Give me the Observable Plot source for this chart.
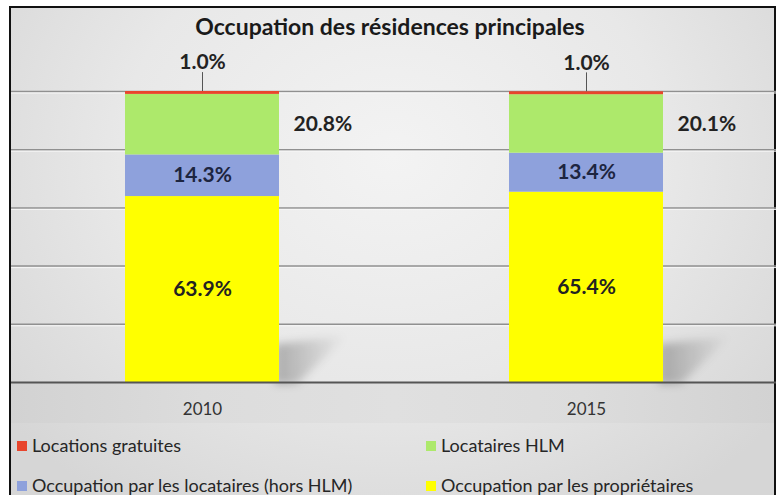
<!DOCTYPE html>
<html><head><meta charset="utf-8">
<script src="https://cdn.jsdelivr.net/npm/d3@7"></script>
<script src="https://cdn.jsdelivr.net/npm/@observablehq/plot@0.6"></script>
<style>
body{margin:0;background:#fff;}
#page{position:relative;width:780px;height:495px;overflow:hidden;font-family:Lato, "Open Sans", sans-serif;}
#frame{position:absolute;left:9px;top:6px;width:767px;height:495px;box-sizing:border-box;border:2px solid #111;border-bottom:none;
 background: radial-gradient(ellipse 65% 85% at 50% 30%, #f3f3f3 0%, #e8e8e8 55%, #d6d6d6 100%);}
#axisband{position:absolute;left:11px;top:382px;width:763px;height:41px;background:linear-gradient(to right,#d2d2d2,#dcdcdc 25%,#e0e0e0 50%,#dcdcdc 75%,#d2d2d2);}
#title{position:absolute;left:0;top:12px;width:780px;text-align:center;font-size:23px;font-weight:bold;color:#1a1a1a;}
#chart{position:absolute;left:0;top:44px;}
.leg{position:absolute;font-size:18px;color:#262626;white-space:nowrap;line-height:20px;}
.sw{position:absolute;width:10px;height:10px;}
</style></head>
<body>
<div id="page">
  <div id="frame"></div>
  <div id="axisband"></div>
  <div id="title">Occupation des résidences principales</div>
  <div id="chart"></div>
  <div id="legend"></div>
</div>
<script>
const years = ["2010", "2015"];
// stacking order: bottom to top
const categories = ["Occupation par les propriétaires", "Occupation par les locataires (hors HLM)", "Locataires HLM", "Locations gratuites"];
const colors = ["#ffff00", "#8ea1dc", "#ade96b", "#e8452c"];
const proprietaires = [63.9, 65.4];
const locatairesHorsHLM = [14.3, 13.4];
const locatairesHLM = [20.8, 20.1];
const locationsGratuites = [1.0, 1.0];
const yTicks = [0, 20, 40, 60, 80, 100];
// legend order (row by row)
const legendOrder = ["Locations gratuites", "Locataires HLM", "Occupation par les locataires (hors HLM)", "Occupation par les propriétaires"];

const series = [proprietaires, locatairesHorsHLM, locatairesHLM, locationsGratuites];
const rows = [];
years.forEach((yr, i) => {
  let acc = 0;
  categories.forEach((c, k) => {
    const v = series[k][i];
    rows.push({year: yr, category: c, k, value: v, y1: acc, y2: acc + v, mid: acc + v / 2});
    acc += v;
  });
});
const fmt = v => v.toFixed(1) + "%";
const insideRows = rows.filter(d => d.k === 0 || d.k === 1);
const sideRows = rows.filter(d => d.k === 2);
const topRows = rows.filter(d => d.k === 3);

const plot = Plot.plot({
  width: 780, height: 379,
  marginTop: 47, marginBottom: 41, marginLeft: 11, marginRight: 4,
  style: {background: "transparent", fontFamily: "Lato, 'Open Sans', sans-serif", fontSize: "17px", color: "#333", overflow: "visible"},
  x: {domain: years, paddingInner: 0.6, paddingOuter: 0.295, label: null, tickSize: 0, tickPadding: 20},
  y: {domain: [0, 100], axis: null},
  color: {domain: categories, range: colors},
  marks: [
    Plot.ruleY(yTicks.filter(d => d > 0), {stroke: "#909090", strokeWidth: 1.5}),
    Plot.ruleY(yTicks.filter(d => d > 0), {stroke: "#f7f7f7", strokeWidth: 1, dy: 1.5}),
    Plot.barY(rows, {x: "year", y1: "y1", y2: "y2", fill: "category"}),
    Plot.ruleY([0], {stroke: "#555", strokeWidth: 2}),
    Plot.ruleX(topRows, {x: "year", y1: "y2", y2: d => d.y2 + 6.5, stroke: "#555", strokeWidth: 1}),
    Plot.text(insideRows, {x: "year", y: "mid", text: d => fmt(d.value), fontSize: 21, fontWeight: "bold", fill: d => d.k === 1 ? "#1d2540" : "#222"}),
    Plot.text(sideRows, {x: "year", y: "mid", text: d => fmt(d.value), fontSize: 21, fontWeight: "bold", fill: "#222", textAnchor: "start", dx: 91}),
    Plot.text(topRows, {x: "year", y: "y2", text: d => fmt(d.value), fontSize: 21, fontWeight: "bold", fill: "#222", dy: -29})
  ]
});
document.getElementById("chart").appendChild(plot);

// decorative soft shadow to the right of each bar base
const sx = plot.scale("x"), sy = plot.scale("y");
const NS = "http://www.w3.org/2000/svg";
const defs = document.createElementNS(NS, "defs");
defs.innerHTML = `<linearGradient id="shg" x1="0" x2="1" y1="0" y2="0">
  <stop offset="0" stop-color="#000" stop-opacity="0.26"/>
  <stop offset="0.5" stop-color="#000" stop-opacity="0.13"/>
  <stop offset="1" stop-color="#000" stop-opacity="0"/></linearGradient>
  <filter id="shb" x="-30%" y="-30%" width="160%" height="160%"><feGaussianBlur stdDeviation="4"/></filter>`;
plot.insertBefore(defs, plot.firstChild);
const barG = plot.querySelector('g[aria-label="bar"]');
years.forEach(yr => {
  const bx = sx.apply(yr) + sx.bandwidth;
  const y0 = sy.apply(0), yA = sy.apply(13), yB = sy.apply(16);
  const p = document.createElementNS(NS, "polygon");
  p.setAttribute("points", `${bx - 4},${yA} ${bx + 68},${yB} ${bx + 18},${y0 + 2} ${bx - 4},${y0 + 2}`);
  p.setAttribute("fill", "url(#shg)");
  p.setAttribute("filter", "url(#shb)");
  barG.parentNode.insertBefore(p, barG);
});

// legend
const legPos = [[17, 439], [426, 439], [17, 479], [426, 479]];
const leg = document.getElementById("legend");
legendOrder.forEach((name, i) => {
  const [x, y] = legPos[i];
  const sw = document.createElement("div");
  sw.className = "sw";
  sw.style.left = x + "px"; sw.style.top = (y + 2) + "px";
  sw.style.background = colors[categories.indexOf(name)];
  leg.appendChild(sw);
  const t = document.createElement("div");
  t.className = "leg";
  t.style.left = (x + 15) + "px"; t.style.top = (y - 4) + "px";
  t.textContent = name;
  leg.appendChild(t);
});
</script>
</body></html>
